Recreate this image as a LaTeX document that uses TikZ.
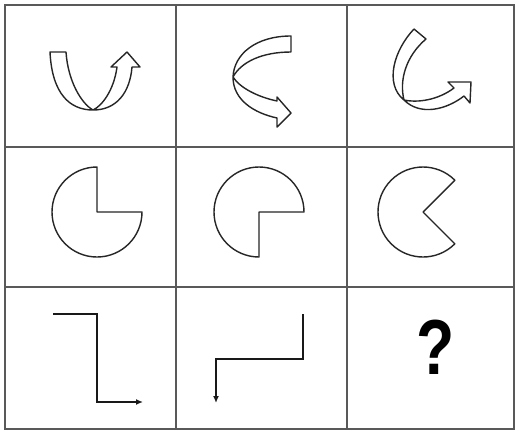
\documentclass[tikz,border=0pt]{standalone}
\usepackage{fontspec}
\newfontfamily\qfont{Liberation Sans}
\usetikzlibrary{arrows.meta}
\begin{document}
\begin{tikzpicture}[x=1pt,y=-1pt,
  gridline/.style={draw=black!65,line width=1.8pt},
  outline/.style={draw=black!85,line width=1.4pt,line join=round},
  elbowarrow/.style={draw=black!90,line width=1.5pt,-{Latex[length=7pt,width=6pt]}}]
\useasboundingbox[fill=white] (0,0) rectangle (516,432);
% grid
\draw[gridline] (5,5) rectangle (514,429);
\draw[gridline] (176,5) -- (176,429) (347,5) -- (347,429)
                (5,147) -- (514,147) (5,287) -- (514,287);
% cell 1: U arrow
\draw[outline] (50,52) .. controls (52,94) and (70,110) .. (93,110)
  .. controls (117,110) and (130,92) .. (132,67) -- (140,67) -- (127,52) -- (111,67) -- (117,67)
  .. controls (114,90) and (102,106) .. (93,110)
  .. controls (82,104) and (68,82) .. (66,52) -- cycle;
% cell 2: C arrow
\draw[outline] (291,36) .. controls (256,36) and (234,54) .. (233,77)
  .. controls (233,100) and (254,113) .. (277,118) -- (277,127) -- (291,113) -- (277,97) -- (277,101)
  .. controls (258,97) and (240,88) .. (233,77)
  .. controls (241,62) and (262,52) .. (291,52) -- cycle;
% cell 3: hook arrow
\draw[outline] (414,29) .. controls (394,50) and (384,84) .. (404,100)
  .. controls (420,116) and (446,110) .. (464,96) -- (470,103) -- (471,82) -- (448,82) -- (454,88)
  .. controls (438,100) and (418,103) .. (404,100)
  .. controls (399,80) and (406,56) .. (426,39) -- cycle;
% row 2: pies
\draw[outline] (97,212) -- ++(0,-45) arc[start angle=-90,end angle=-360,radius=45] -- cycle;
\draw[outline] (259,212) -- ++(45,0) arc[start angle=0,end angle=-270,radius=45] -- cycle;
\draw[outline] (423,212) -- ++(-45:45) arc[start angle=-45,end angle=-315,radius=45] -- cycle;
% row 3: bent arrows
\coordinate (a1) at (53,314);
\coordinate (a2) at (143,402);
\draw[elbowarrow] (a1) -| (97,402) -- (a2);
\coordinate (b1) at (303,314);
\coordinate (b2) at (216,403);
\draw[elbowarrow] (b1) |- (216,359) -- (b2);
% question mark
\node[inner sep=0pt,font=\qfont\bfseries\fontsize{78}{78}\selectfont,xscale=0.8] (q) at (436,347) {?};
\end{tikzpicture}
\end{document}
